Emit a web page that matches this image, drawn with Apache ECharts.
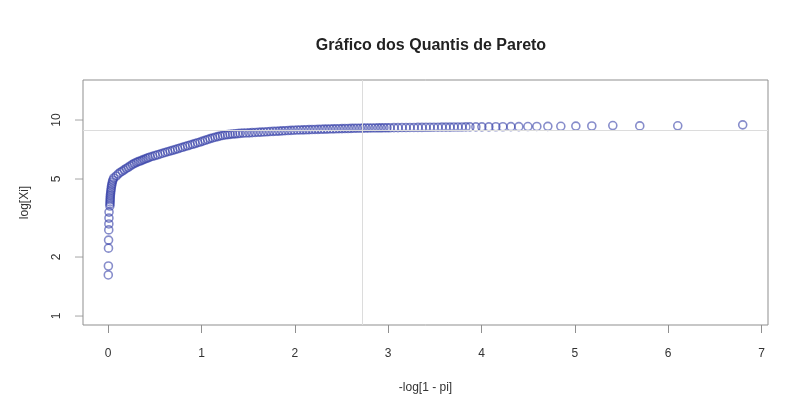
<!DOCTYPE html>
<html>
<head>
<meta charset="utf-8">
<script src="https://cdn.jsdelivr.net/npm/echarts@6/dist/echarts.min.js"></script>
<style>
html,body{margin:0;padding:0;background:#fff;}
#chart{width:792px;height:405px;}
</style>
</head>
<body>
<div id="chart"></div>
<script>
// -log(1 - p_i) plotting positions
const quantX = [
  0.001,0.002,0.003,0.004,0.006,0.007,0.008,0.009,
  0.018,0.019,0.020,0.021,0.022,0.023,0.025,0.027,0.030,0.033,0.036,0.040,0.045,0.050,0.060,
  0.086,0.107,0.128,0.150,0.171,0.193,0.214,0.236,0.257,0.278,0.300,0.321,0.343,0.364,0.385,0.407,0.428,0.450,
  0.476,0.503,0.530,0.557,0.584,0.610,0.637,0.664,0.691,0.717,0.744,0.771,0.797,0.824,0.851,0.878,0.905,0.931,0.958,0.985,
  1.012,1.039,1.066,1.092,1.119,1.146,1.173,1.199,1.226,1.253,1.280,1.306,1.333,1.360,1.387,1.413,
  1.445,1.478,1.510,1.542,1.574,1.606,1.638,1.670,1.702,1.734,1.767,1.799,1.831,1.863,1.895,1.927,1.959,1.991,2.024,2.056,
  2.088,2.120,2.152,2.184,2.216,2.248,2.281,2.313,2.345,2.377,2.409,2.441,2.473,2.505,2.537,2.570,2.602,2.634,2.666,2.698,
  2.730,2.762,2.794,2.827,2.859,2.891,2.923,2.955,2.987,3.019,
  3.062,3.105,3.148,3.191,3.233,3.276,3.319,3.362,3.405,3.448,3.490,3.533,3.576,3.619,3.662,3.704,3.747,3.790,3.833,
  3.876,3.940,4.004,4.079,4.154,4.229,4.315,4.400,4.497,4.593,4.711,4.850,5.011,5.182,5.407,5.696,6.103,6.799
];
// observed X_i (shown on a logarithmic y scale)
const obsX = [
  1.62,1.80,2.22,2.44,2.75,2.95,3.16,3.39,
  3.64,3.73,3.82,3.91,4.00,4.10,4.19,4.29,4.39,4.50,4.61,4.71,4.83,4.94,5.06,
  5.18,5.30,5.40,5.48,5.57,5.66,5.74,5.83,5.92,6.00,6.07,6.13,6.18,6.24,6.30,6.36,6.42,6.48,
  6.53,6.59,6.65,6.71,6.77,6.83,6.89,6.95,7.01,7.07,7.13,7.20,7.26,7.33,7.39,7.46,7.52,7.59,7.66,7.72,
  7.80,7.88,7.96,8.04,8.10,8.17,8.23,8.29,8.34,8.39,8.42,8.45,8.48,8.50,8.52,8.55,
  8.57,8.59,8.60,8.62,8.64,8.66,8.67,8.69,8.71,8.73,8.75,8.76,8.78,8.80,8.82,8.84,8.85,8.87,8.89,8.90,
  8.91,8.92,8.93,8.94,8.95,8.96,8.97,8.98,8.99,9.00,9.01,9.02,9.03,9.04,9.05,9.05,9.06,9.07,9.08,9.08,
  9.09,9.10,9.10,9.11,9.11,9.12,9.12,9.13,9.13,9.13,
  9.14,9.14,9.15,9.15,9.16,9.16,9.17,9.17,9.18,9.18,9.19,9.19,9.20,9.20,9.20,9.21,9.21,9.21,9.22,
  9.22,9.22,9.23,9.23,9.24,9.24,9.25,9.25,9.26,9.27,9.28,9.29,9.31,9.32,9.37,9.33,9.34,9.45
];
const xTicks = [0,1,2,3,4,5,6,7];
const yTicks = [1,2,5,10];
const xRange = [-0.27, 7.07];
const yRange = [0.9, 16];
const refX = [2.72];
const refY = [8.89];

const chart = echarts.init(document.getElementById('chart'), null, {renderer:'canvas'});
const FONT = '"Liberation Sans", Arial, Helvetica, sans-serif';
const lg = Math.log10;
// the y axis is a linear axis over log10 of the values (a log scale)
const pts = quantX.map((x, i) => [x, lg(obsX[i])]);
const yTickPos = yTicks.map(lg);
const AX = '#8f8f8f';
const TICK_LEN = 8;

chart.setOption({
  animation: false,
  backgroundColor: '#ffffff',
  title: {
    text: 'Gráfico dos Quantis de Pareto',
    left: 426, top: 33, textAlign: 'center',
    textStyle: {fontFamily: FONT, fontSize: 16, fontWeight: 'bold', color: '#222'}
  },
  grid: {left: 83, right: 24, top: 80, bottom: 80, show: true, borderColor: AX, borderWidth: 1, backgroundColor: 'transparent'},
  xAxis: {
    type: 'value', min: xRange[0], max: xRange[1], position: 'bottom',
    name: '-log[1 - pi]', nameLocation: 'middle', nameGap: 57,
    nameTextStyle: {fontFamily: FONT, fontSize: 12, color: '#333'},
    axisLine: {show: false, onZero: false},
    axisTick: {show: true, inside: false, length: TICK_LEN, lineStyle: {color: AX}, customValues: xTicks},
    axisLabel: {fontFamily: FONT, fontSize: 12, color: '#333', margin: 23, customValues: xTicks},
    splitLine: {show: false}
  },
  yAxis: {
    type: 'value', min: lg(yRange[0]), max: lg(yRange[1]), position: 'left',
    name: 'log[Xi]', nameLocation: 'middle', nameGap: 52, nameRotate: 90,
    nameTextStyle: {fontFamily: FONT, fontSize: 12, color: '#333'},
    axisLine: {show: false, onZero: false},
    axisTick: {show: false},
    axisLabel: {fontFamily: FONT, fontSize: 12, color: '#333', margin: 20, rotate: 90, customValues: yTickPos,
      formatter: v => String(Math.round(Math.pow(10, v)))},
    splitLine: {show: false}
  },
  series: [{
    type: 'scatter',
    data: pts,
    symbol: 'circle',
    symbolSize: 8,
    itemStyle: {color: 'rgba(0,0,0,0)', borderColor: 'rgba(46,58,165,0.72)', borderWidth: 1.6},
    silent: true,
    markLine: {
      silent: true, symbol: 'none', label: {show: false},
      lineStyle: {color: '#dcdcdc', width: 1, type: 'solid'},
      data: [{xAxis: refX[0]}, {yAxis: lg(refY[0])}]
    }
  }, {
    // y-axis tick marks on the left edge, placed through the y scale
    type: 'scatter',
    data: yTickPos.map(v => [xRange[0], v]),
    symbol: 'rect',
    symbolSize: [TICK_LEN, 1],
    symbolOffset: [-TICK_LEN / 2, 0],
    clip: false,
    silent: true,
    z: 5,
    itemStyle: {color: AX}
  }]
});
</script>
</body>
</html>
